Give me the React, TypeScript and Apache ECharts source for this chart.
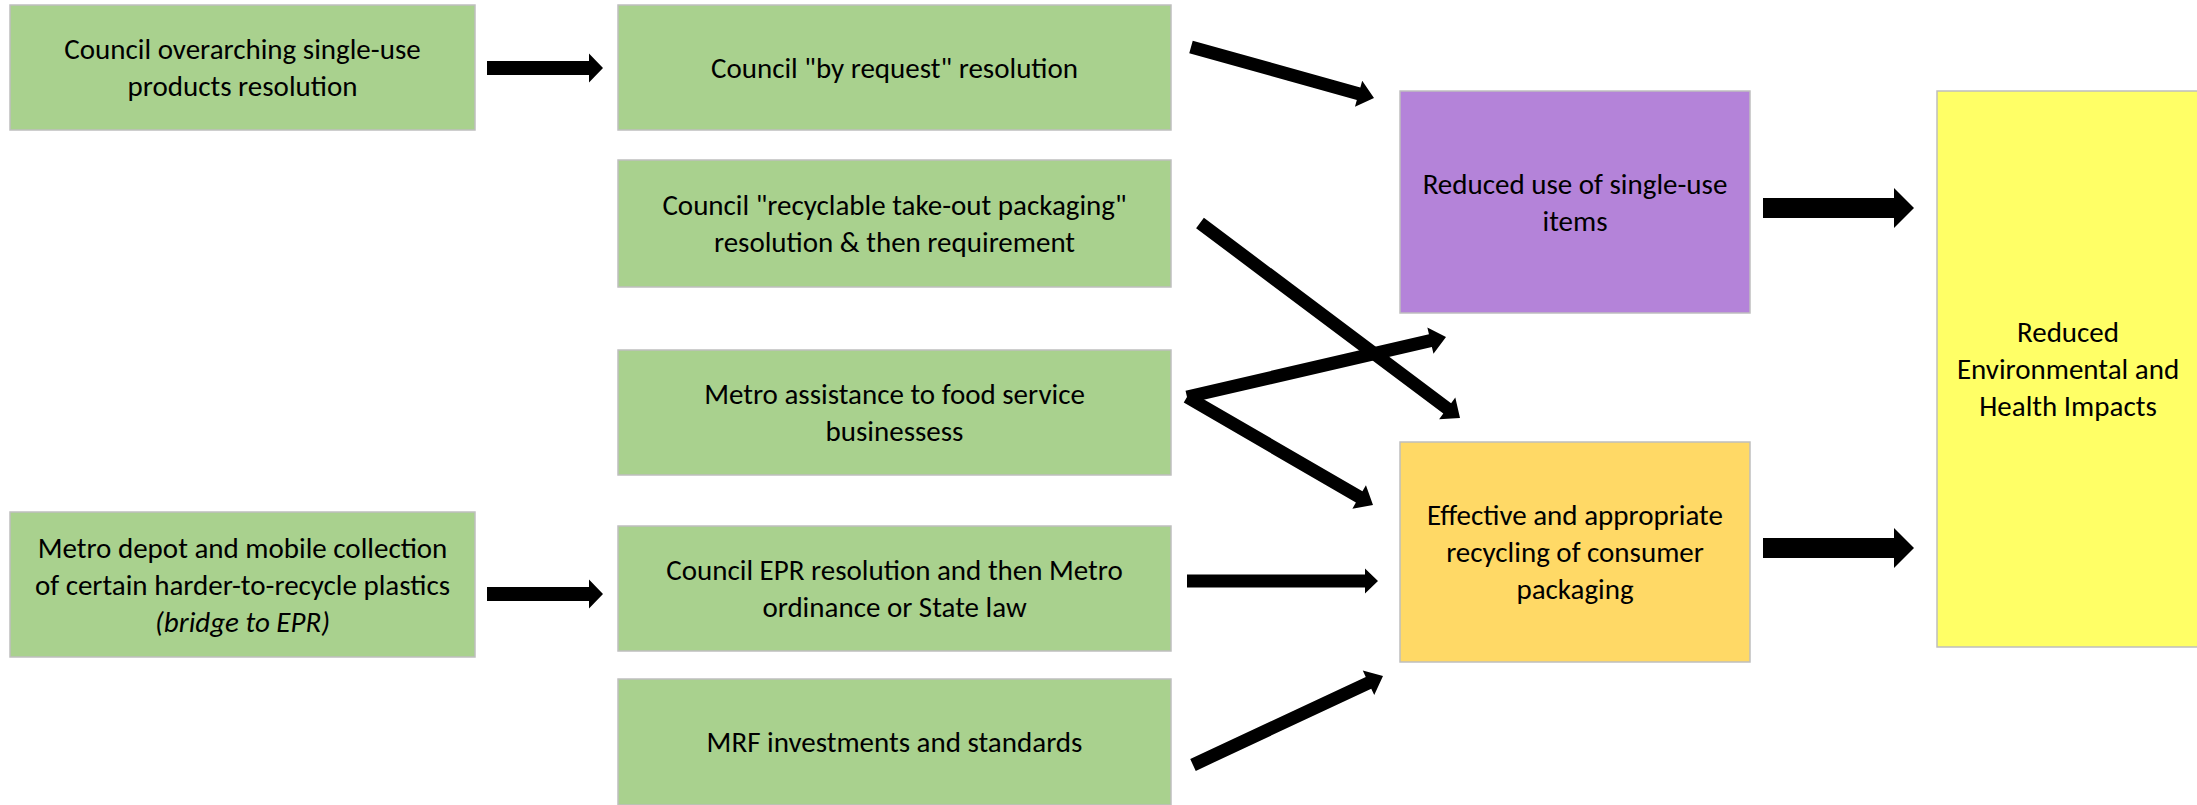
import React, { useEffect, useRef } from "react";
import * as echarts from "echarts";

const W = 2197;
const H = 805;

const boxLabels: string[] = [
  "Council overarching single-use\nproducts resolution",
  "Council \"by request\" resolution",
  "Council \"recyclable take-out packaging\"\nresolution & then requirement",
  "Metro assistance to food service\nbusinessess",
  "Metro depot and mobile collection\nof certain harder-to-recycle plastics\n{i|(bridge to EPR)}",
  "Council EPR resolution and then Metro\nordinance or State law",
  "MRF investments and standards",
  "Reduced use of single-use\nitems",
  "Effective and appropriate\nrecycling of consumer\npackaging",
  "Reduced\nEnvironmental and\nHealth Impacts",
];

const boxColors: string[] = [
  "#A9D18E", "#A9D18E", "#A9D18E", "#A9D18E", "#A9D18E", "#A9D18E", "#A9D18E",
  "#B483D9", "#FFD966", "#FFFF66",
];

// layout: [x, y, width, height]
const boxRects: number[][] = [
  [10, 5, 465, 125],
  [618, 5, 553, 125],
  [618, 160, 553, 127],
  [618, 350, 553, 125],
  [10, 512, 465, 145],
  [618, 526, 553, 125],
  [618, 679, 553, 126],
  [1400, 91, 350, 222],
  [1400, 442, 350, 220],
  [1937, 91, 270, 556],
];

// arrows: [x1, y1, x2, y2, shaft, headWidth, headLength]
const arrowDefs: number[][] = [
  [487, 68, 603, 68, 14, 29, 14],
  [487, 594, 603, 594, 14, 29, 14],
  [1191, 47, 1374, 98, 13, 27, 16],
  [1200, 223, 1460, 418, 13, 27, 16],
  [1187, 397, 1446, 337, 13, 27, 16],
  [1187, 397, 1373, 505, 13, 27, 16],
  [1187, 581, 1378, 581, 13, 25, 13],
  [1193, 765, 1383, 676, 13, 27, 16],
  [1763, 208, 1914, 208, 20, 40, 20],
  [1763, 548, 1914, 548, 20, 40, 20],
];

const FONT = "Carlito, Lato, 'Open Sans', sans-serif";
const FS = 29;
const LH = 37;

function arrowPoints(a: number[]): number[][] {
  const [x1, y1, x2, y2, t, w, L] = a;
  const dx = x2 - x1;
  const dy = y2 - y1;
  const len = Math.sqrt(dx * dx + dy * dy);
  const ux = dx / len;
  const uy = dy / len;
  const nx = -uy;
  const ny = ux;
  const bx = x2 - ux * L;
  const by = y2 - uy * L;
  return [
    [x1 + (nx * t) / 2, y1 + (ny * t) / 2],
    [bx + (nx * t) / 2, by + (ny * t) / 2],
    [bx + (nx * w) / 2, by + (ny * w) / 2],
    [x2, y2],
    [bx - (nx * w) / 2, by - (ny * w) / 2],
    [bx - (nx * t) / 2, by - (ny * t) / 2],
    [x1 - (nx * t) / 2, y1 - (ny * t) / 2],
  ];
}

export default function App() {
  const ref = useRef<HTMLDivElement>(null);
  useEffect(() => {
    if (!ref.current) return;
    const chart = echarts.init(ref.current, undefined, { renderer: "svg" });
    const elements: any[] = [];
    boxRects.forEach((r, i) => {
      elements.push({
        type: "rect",
        shape: { x: r[0], y: r[1], width: r[2], height: r[3] },
        style: { fill: boxColors[i], stroke: "#BFBFBF", lineWidth: 1.5 },
        z: 1,
      });
    });
    boxRects.forEach((r, i) => {
      elements.push({
        type: "text",
        x: r[0] + (i === 9 ? 262 : r[2]) / 2,
        y: r[1] + r[3] / 2,
        style: {
          text: boxLabels[i],
          fill: "#000000",
          font: `${FS}px ${FONT}`,
          fontSize: FS,
          fontFamily: FONT,
          lineHeight: LH,
          align: "center",
          verticalAlign: "middle",
          rich: {
            i: { fontStyle: "italic", fontSize: FS, fontFamily: FONT, lineHeight: LH, fill: "#000000" },
          },
        },
        z: 3,
      });
    });
    arrowDefs.forEach((a) => {
      elements.push({
        type: "polygon",
        shape: { points: arrowPoints(a) },
        style: { fill: "#000000" },
        z: 2,
      });
    });
    chart.setOption({
      animation: false,
      backgroundColor: "#ffffff",
      graphic: { elements },
    });
    return () => chart.dispose();
  }, []);
  return (
    <div
      ref={ref}
      style={{ position: "fixed", left: 0, top: 0, width: W, height: H, background: "#fff" }}
    />
  );
}
